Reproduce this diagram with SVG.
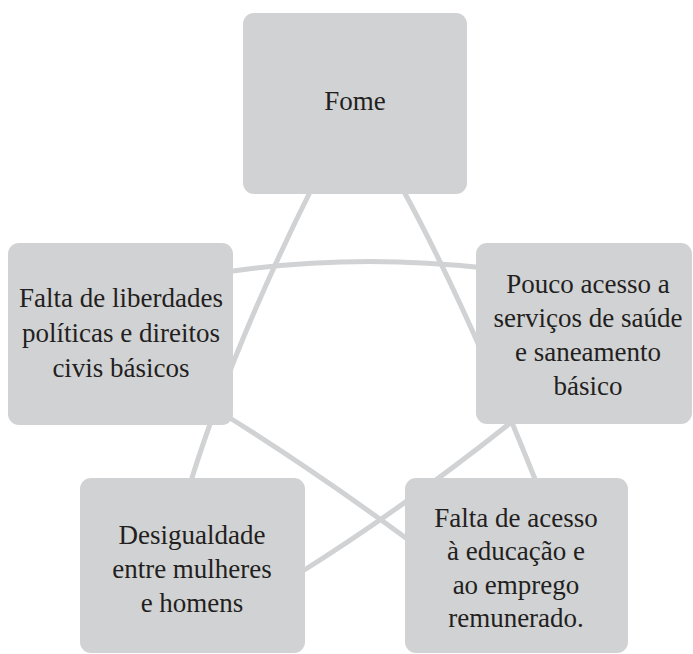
<svg xmlns="http://www.w3.org/2000/svg" width="693" height="654" viewBox="0 0 693 654">
<style>
.box{fill:#d1d2d4}
.lbl{font-family:"Liberation Serif","Times New Roman",serif;font-size:27px;fill:#231f20;text-anchor:middle}
.con{fill:none;stroke:#d1d2d4;stroke-width:5;stroke-linecap:butt}
</style>
<rect width="693" height="654" fill="#ffffff"/>
<g id="connectors">
<path class="con" d="M312,188 Q233,346 190,484"/>
<path class="con" d="M402,188 Q465,303 537,484"/>
<path class="con" d="M225,272 Q354,253 485,268"/>
<path class="con" d="M222,413 Q315,471 410,541"/>
<path class="con" d="M298,574 Q405,507 514,420"/>
</g>
<g id="node-fome">
<rect class="box" x="243" y="13" width="224" height="181" rx="11"/>
<text class="lbl" x="355" y="110">Fome</text>
</g>
<g id="node-liberdades">
<rect class="box" x="8" y="243" width="225" height="182" rx="11"/>
<text class="lbl" x="121" y="307">Falta de liberdades</text>
<text class="lbl" x="121" y="342">políticas e direitos</text>
<text class="lbl" x="121" y="377">civis básicos</text>
</g>
<g id="node-saude">
<rect class="box" x="476" y="243" width="216" height="181" rx="11"/>
<text class="lbl" x="588" y="293">Pouco acesso a</text>
<text class="lbl" x="588" y="327">serviços de saúde</text>
<text class="lbl" x="588" y="361">e saneamento</text>
<text class="lbl" x="588" y="395">básico</text>
</g>
<g id="node-desigualdade">
<rect class="box" x="80" y="478" width="225" height="175" rx="11"/>
<text class="lbl" x="192" y="544">Desigualdade</text>
<text class="lbl" x="192" y="578">entre mulheres</text>
<text class="lbl" x="192" y="612">e homens</text>
</g>
<g id="node-educacao">
<rect class="box" x="405" y="478" width="223" height="175" rx="11"/>
<text class="lbl" x="516" y="527">Falta de acesso</text>
<text class="lbl" x="516" y="560">à educação e</text>
<text class="lbl" x="516" y="594">ao emprego</text>
<text class="lbl" x="516" y="627">remunerado.</text>
</g>
</svg>
